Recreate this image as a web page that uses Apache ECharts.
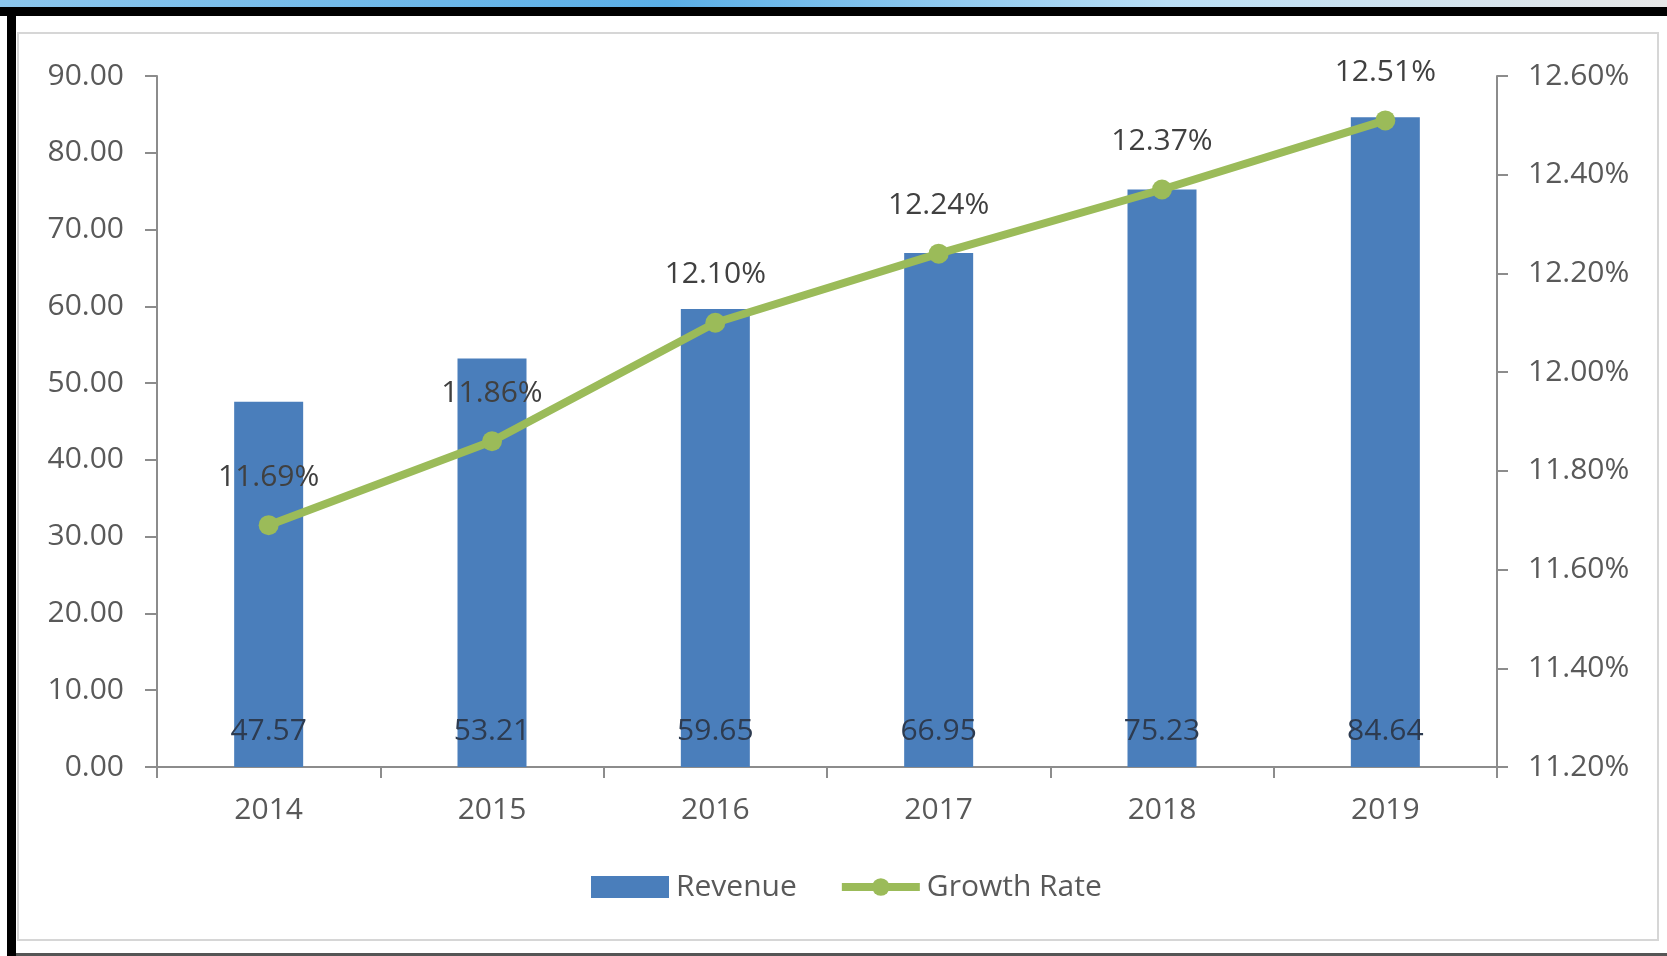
<!DOCTYPE html>
<html>
<head>
<meta charset="utf-8">
<script src="https://cdn.jsdelivr.net/npm/echarts@6/dist/echarts.min.js"></script>
<style>
html,body{margin:0;padding:0;background:#ffffff;}
#chart{width:1667px;height:956px;}
</style>
</head>
<body>
<div id="chart"></div>
<script>
var years = ['2014', '2015', '2016', '2017', '2018', '2019'];
var revenue = [47.57, 53.21, 59.65, 66.95, 75.23, 84.64];
var growthRate = [11.69, 11.86, 12.10, 12.24, 12.37, 12.51];
var seriesNames = ['Revenue', 'Growth Rate'];

var FONT = "'Open Sans', 'Liberation Sans', sans-serif";
var GREEN = '#9bbb59';
var BLUE = '#4a7ebb';
var chart = echarts.init(document.getElementById('chart'), null, {renderer: 'canvas'});

var option = {
  backgroundColor: '#ffffff',
  animation: false,
  textStyle: {fontFamily: FONT},
  graphic: [
    {type: 'rect', z: -10, shape: {x: 0, y: 0, width: 1667, height: 8},
     style: {fill: new echarts.graphic.LinearGradient(0, 0, 1, 0, [
       {offset: 0, color: '#8cc6ec'}, {offset: 0.4, color: '#5aaee6'},
       {offset: 0.7, color: '#b9def5'}, {offset: 1, color: '#e6e6e6'}])}},
    {type: 'rect', z: -5, shape: {x: 0, y: 7, width: 1667, height: 9}, style: {fill: '#000000'}},
    {type: 'rect', z: -5, shape: {x: 7, y: 7, width: 9, height: 949}, style: {fill: '#000000'}},
    {type: 'rect', z: -6, shape: {x: 18, y: 33, width: 1640, height: 907},
     style: {fill: '#ffffff', stroke: '#d6d6d6', lineWidth: 2}},
    {type: 'rect', z: -6, shape: {x: 16, y: 953, width: 1651, height: 3}, style: {fill: '#555555'}}
  ],
  grid: {left: 157, right: 170, top: 76, bottom: 189, containLabel: false},
  legend: {
    data: [
      {name: seriesNames[0], icon: 'rect', itemStyle: {color: BLUE}},
      {name: seriesNames[1], lineStyle: {color: GREEN, width: 8}, itemStyle: {color: GREEN}}
    ],
    left: 586,
    top: 867,
    itemWidth: 78,
    itemHeight: 22,
    itemGap: 41,
    textStyle: {fontFamily: FONT, fontSize: 30, color: '#595959', padding: [0, 0, 0, 2]}
  },
  xAxis: {
    type: 'category',
    data: years,
    boundaryGap: true,
    axisLine: {lineStyle: {color: '#8c8c8c', width: 2}},
    axisTick: {show: true, length: 11, lineStyle: {color: '#8c8c8c', width: 2}},
    axisLabel: {fontFamily: FONT, fontSize: 30, color: '#595959', margin: 28},
    splitLine: {show: false}
  },
  yAxis: [
    {
      type: 'value', min: 0, max: 90, interval: 10, position: 'left',
      axisLine: {show: true, lineStyle: {color: '#8c8c8c', width: 2}},
      axisTick: {show: true, length: 12, lineStyle: {color: '#8c8c8c', width: 2}},
      axisLabel: {fontFamily: FONT, fontSize: 30, color: '#595959', margin: 33,
        formatter: function (v) { return v.toFixed(2); }},
      splitLine: {show: false}
    },
    {
      type: 'value', min: 11.2, max: 12.6, interval: 0.2, position: 'right',
      axisLine: {show: true, lineStyle: {color: '#8c8c8c', width: 2}},
      axisTick: {show: true, length: 11, lineStyle: {color: '#8c8c8c', width: 2}},
      axisLabel: {fontFamily: FONT, fontSize: 30, color: '#595959', margin: 31,
        formatter: function (v) { return v.toFixed(2) + '%'; }},
      splitLine: {show: false}
    }
  ],
  series: [
    {
      name: seriesNames[0],
      type: 'bar',
      yAxisIndex: 0,
      data: revenue,
      barWidth: 69,
      itemStyle: {color: BLUE},
      label: {
        show: true, position: 'insideBottom', distance: 21,
        fontFamily: FONT, fontSize: 30, color: '#2d3b50',
        formatter: function (p) { return p.value.toFixed(2); }
      }
    },
    {
      name: seriesNames[1],
      type: 'line',
      yAxisIndex: 1,
      data: growthRate,
      symbol: 'circle',
      symbolSize: 20,
      lineStyle: {color: GREEN, width: 8},
      itemStyle: {color: GREEN},
      label: {
        show: true, position: 'top', distance: 23,
        fontFamily: FONT, fontSize: 30, color: '#404040',
        formatter: function (p) { return p.value.toFixed(2) + '%'; }
      }
    }
  ]
};
chart.setOption(option);
</script>
</body>
</html>
